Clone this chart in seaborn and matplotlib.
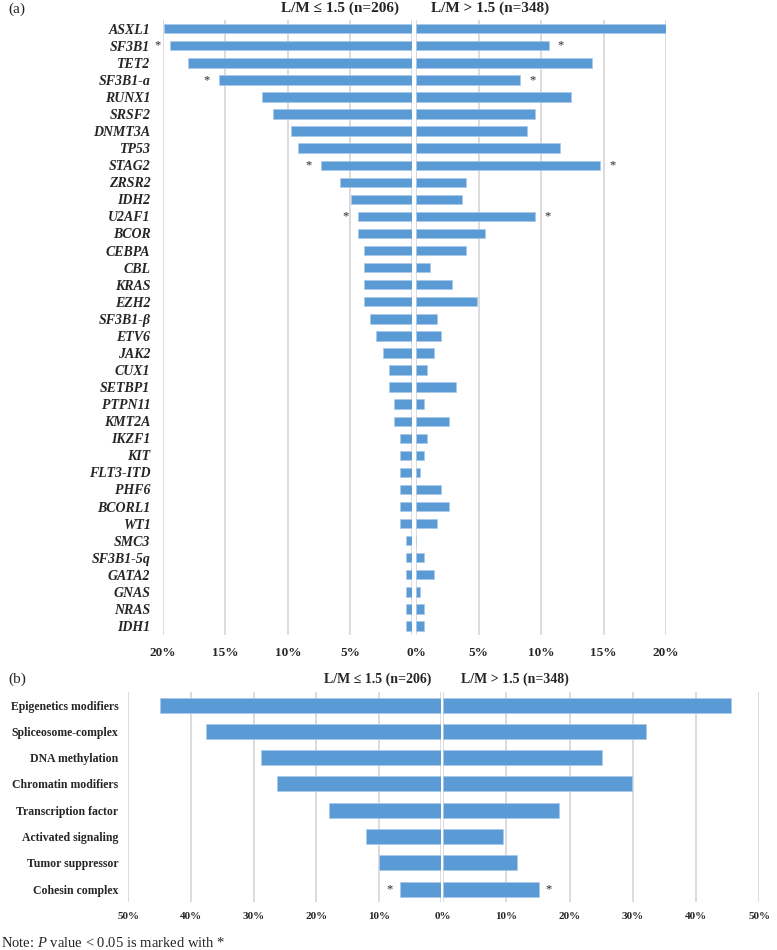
import matplotlib.pyplot as plt
import seaborn as sns

# Panel (a): per-gene mutation frequency (%)
genes = ["ASXL1", "SF3B1", "TET2", "SF3B1-a", "RUNX1", "SRSF2", "DNMT3A", "TP53",
         "STAG2", "ZRSR2", "IDH2", "U2AF1", "BCOR", "CEBPA", "CBL", "KRAS", "EZH2",
         "SF3B1-β", "ETV6", "JAK2", "CUX1", "SETBP1", "PTPN11", "KMT2A", "IKZF1",
         "KIT", "FLT3-ITD", "PHF6", "BCORL1", "WT1", "SMC3", "SF3B1-5q", "GATA2",
         "GNAS", "NRAS", "IDH1"]
gene_low = [19.9, 19.4, 18.0, 15.5, 12.1, 11.2, 9.7, 9.2, 7.3, 5.8, 4.9, 4.4, 4.4,
            3.9, 3.9, 3.9, 3.9, 3.4, 2.9, 2.4, 1.9, 1.9, 1.5, 1.5, 1.0, 1.0, 1.0,
            1.0, 1.0, 1.0, 0.5, 0.5, 0.5, 0.5, 0.5, 0.5]
gene_high = [20.1, 10.6, 14.1, 8.3, 12.4, 9.5, 8.9, 11.5, 14.7, 4.0, 3.7, 9.5, 5.5,
             4.0, 1.1, 2.9, 4.9, 1.7, 2.0, 1.4, 0.9, 3.2, 0.6, 2.6, 0.9, 0.6, 0.3,
             2.0, 2.6, 1.7, 0.0, 0.6, 1.4, 0.3, 0.6, 0.6]
gene_marked = ["SF3B1", "SF3B1-a", "STAG2", "U2AF1"]

# Panel (b): functional groups (%)
groups = ["Epigenetics modifiers", "Spliceosome-complex", "DNA methylation",
          "Chromatin modifiers", "Transcription factor", "Activated signaling",
          "Tumor suppressor", "Cohesin complex"]
group_low = [45.0, 37.6, 28.8, 26.3, 17.9, 12.0, 10.0, 6.7]
group_high = [45.6, 32.1, 25.2, 29.9, 18.3, 9.5, 11.7, 15.1]
group_marked = ["Cohesin complex"]

title_low = "L/M ≤ 1.5 (n=206)"
title_high = "L/M > 1.5 (n=348)"

BLUE = "#5b9bd5"
GRID = "#d9d9d9"

sns.set_style("white")
plt.rcParams["font.family"] = ["Liberation Serif", "DejaVu Serif"]
plt.rcParams["mathtext.fontset"] = "custom"
plt.rcParams["mathtext.rm"] = "Liberation Serif"
plt.rcParams["mathtext.it"] = "Liberation Serif:italic"

W, H = 777, 950
fig = plt.figure(figsize=(W / 100, H / 100), dpi=100)


def px_axes(x0, y0, x1, y1):
    return fig.add_axes([x0 / W, 1 - y1 / H, (x1 - x0) / W, (y1 - y0) / H])


def half(ax, values, labels, side, xmax, step, marked, star_off, bar_w, tick_fs, tick_pad):
    sns.barplot(x=values, y=labels, orient="h", color=BLUE, saturation=1, width=bar_w,
                edgecolor="#a9c8ea", linewidth=0.5, ax=ax)
    ax.set_ylim(len(labels) - 0.5, -0.5)
    ticks = list(range(0, xmax + 1, step))
    ax.set_xticks(ticks)
    if side == "left":
        ax.set_xlim(xmax, 0)
        ax.set_xticklabels([f"{t}%" if t else "" for t in ticks])
    else:
        ax.set_xlim(0, xmax)
        ax.set_xticklabels([f"{t}%" for t in ticks])
        ax.tick_params(axis="y", labelleft=False)
    ax.grid(axis="x", color=GRID, linewidth=1.3)
    ax.grid(axis="y", visible=False)
    ax.set_axisbelow(True)
    for s in ax.spines.values():
        s.set_visible(False)
    ax.set_xlabel("")
    ax.set_ylabel("")
    ax.tick_params(axis="x", length=0, pad=tick_pad, labelsize=tick_fs)
    ax.tick_params(axis="y", length=0)
    for lab in ax.get_xticklabels():
        lab.set_fontweight("bold")
    for i, (lab, v) in enumerate(zip(labels, values)):
        if lab in marked:
            ax.text(v + star_off, i, "*", ha="center", va="center", fontsize=9)


# (a)
ax1 = px_axes(163, 20.2, 412.5, 634.5)
ax2 = px_axes(416, 20.2, 666, 634.5)
half(ax1, gene_low, genes, "left", 20, 5, gene_marked, 1.0, 0.55, 9.5, 9)
half(ax2, gene_high, genes, "right", 20, 5, gene_marked, 1.0, 0.55, 9.5, 9)
ax1.tick_params(axis="y", pad=9)
for lab in ax1.get_yticklabels():
    lab.set_fontweight("bold")
    lab.set_fontstyle("italic")
    lab.set_fontsize(10)

# (b)
ax3 = px_axes(128.3, 692, 441.5, 902.2)
ax4 = px_axes(443, 692, 759.3, 902.2)
half(ax3, group_low, groups, "left", 50, 10, group_marked, 1.6, 0.57, 8, 7)
half(ax4, group_high, groups, "right", 50, 10, group_marked, 1.6, 0.57, 8, 7)
ax3.tick_params(axis="y", pad=7)
for lab in ax3.get_yticklabels():
    lab.set_fontweight("bold")
    lab.set_fontsize(8.5)

fig.text(8 / W, 1 - 9 / H, "(a)", fontsize=11, va="center", ha="left")
fig.text(340 / W, 1 - 8 / H, title_low, fontsize=11, fontweight="bold", ha="center", va="center")
fig.text(490 / W, 1 - 8 / H, title_high, fontsize=11, fontweight="bold", ha="center", va="center")

fig.text(8 / W, 1 - 679 / H, "(b)", fontsize=11, va="center", ha="left")
fig.text(378 / W, 1 - 679 / H, title_low, fontsize=10, fontweight="bold", ha="center", va="center")
fig.text(515 / W, 1 - 679 / H, title_high, fontsize=10, fontweight="bold", ha="center", va="center")

fig.text(1 / W, 1 - 943 / H, "Note: $P$ value < 0.05 is marked with *", fontsize=10.5,
         ha="left", va="center")

plt.savefig("out.png", dpi=100)
